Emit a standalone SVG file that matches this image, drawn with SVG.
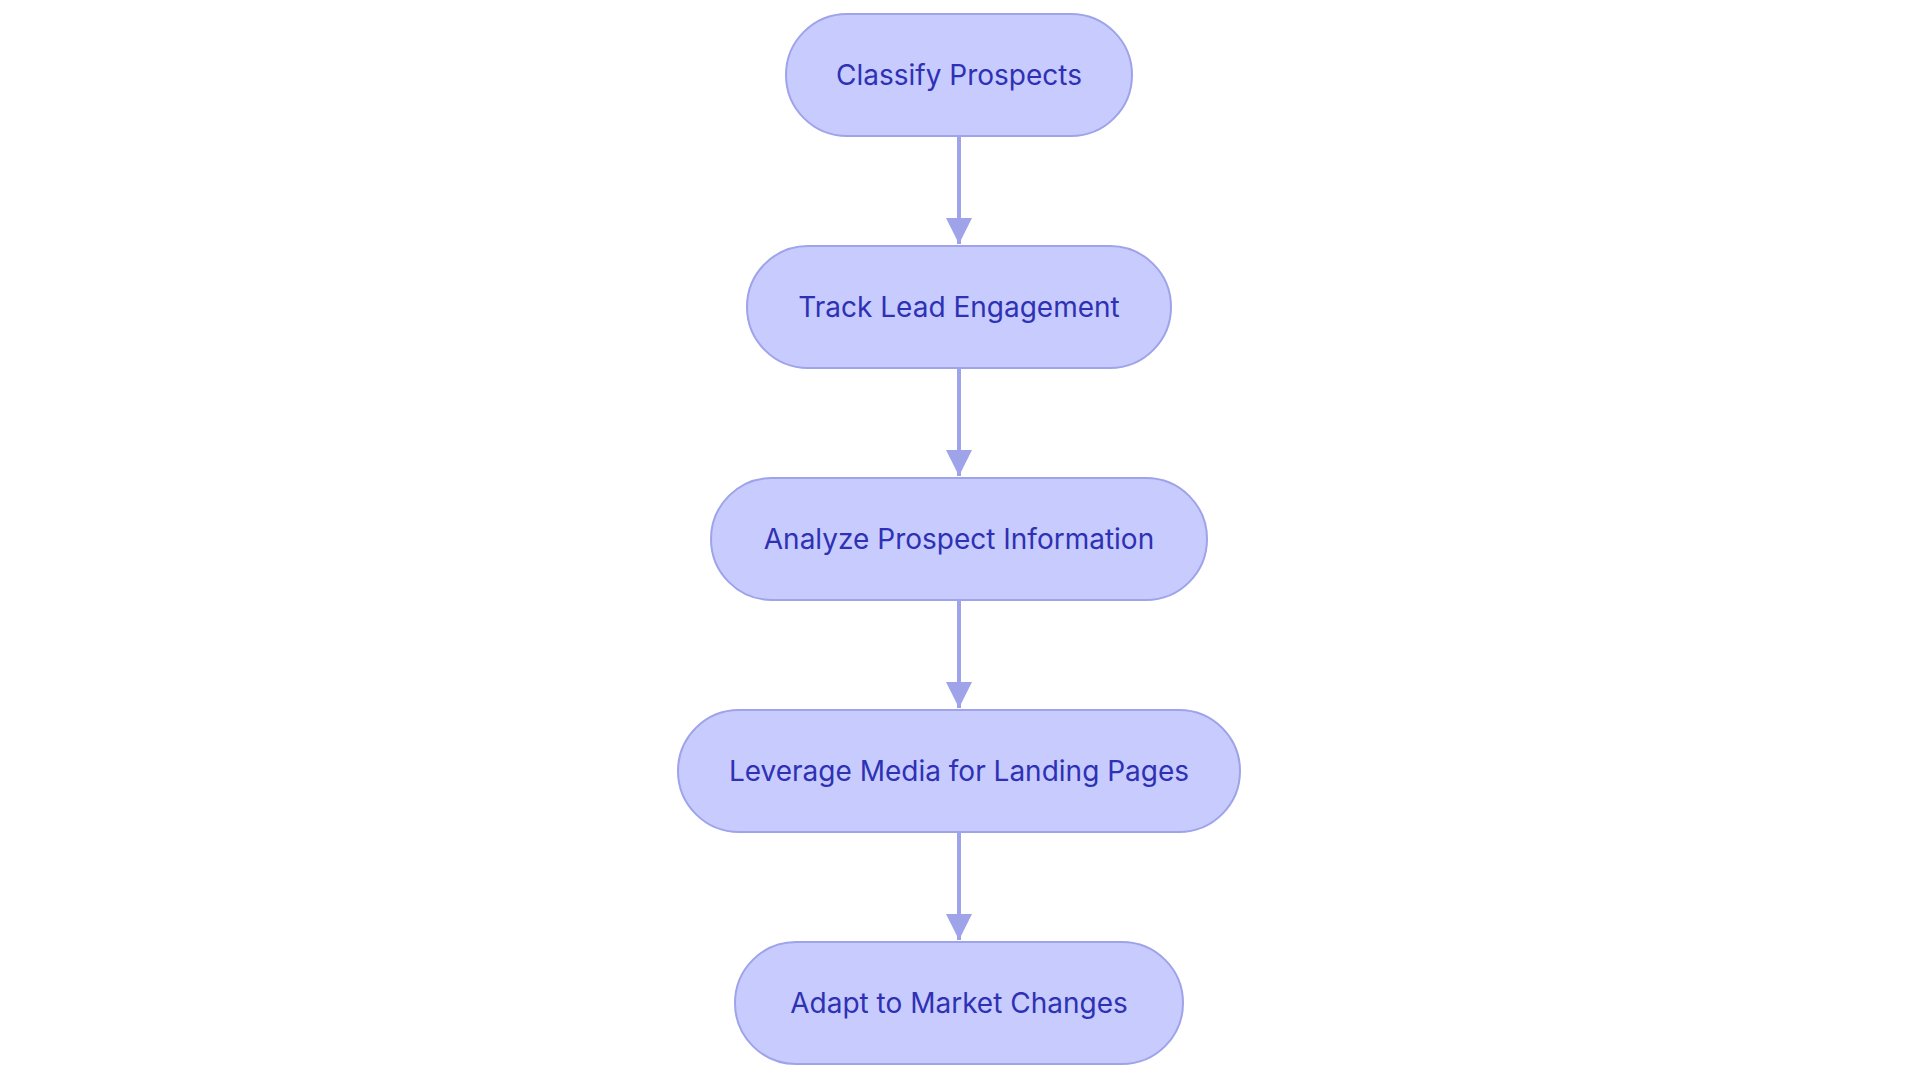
<svg xmlns="http://www.w3.org/2000/svg" width="1920" height="1083" viewBox="0 0 1920 1083">
<style>
.n rect{fill:#c8cbfd;stroke:#9ea3ea;stroke-width:2}
.n text{font-family:Inter,"Noto Sans",sans-serif;font-size:28px;fill:#2e31b4;text-anchor:middle;dominant-baseline:central}
.c line{stroke:#9ea3ea;stroke-width:4}
</style>
<defs><marker id="a" markerUnits="userSpaceOnUse" markerWidth="28" markerHeight="28" refX="26" refY="13" orient="auto"><path d="M0,0L26,13L0,26Z" fill="#9ea3ea"/></marker></defs>
<rect width="1920" height="1083" fill="#fff"/>
<g class="c">
<line x1="959" y1="136" x2="959" y2="244" marker-end="url(#a)"/>
<line x1="959" y1="368" x2="959" y2="476" marker-end="url(#a)"/>
<line x1="959" y1="600" x2="959" y2="708" marker-end="url(#a)"/>
<line x1="959" y1="832" x2="959" y2="940" marker-end="url(#a)"/>
</g>
<g id="n1" class="n"><rect x="786" y="14" width="346" height="122" rx="61"/><text x="959" y="75">Classify Prospects</text></g>
<g id="n2" class="n"><rect x="747" y="246" width="424" height="122" rx="61"/><text x="959" y="307">Track Lead Engagement</text></g>
<g id="n3" class="n"><rect x="711" y="478" width="496" height="122" rx="61"/><text x="959" y="539">Analyze Prospect Information</text></g>
<g id="n4" class="n"><rect x="678" y="710" width="562" height="122" rx="61"/><text x="959" y="771">Leverage Media for Landing Pages</text></g>
<g id="n5" class="n"><rect x="735" y="942" width="448" height="122" rx="61"/><text x="959" y="1003">Adapt to Market Changes</text></g>
</svg>
